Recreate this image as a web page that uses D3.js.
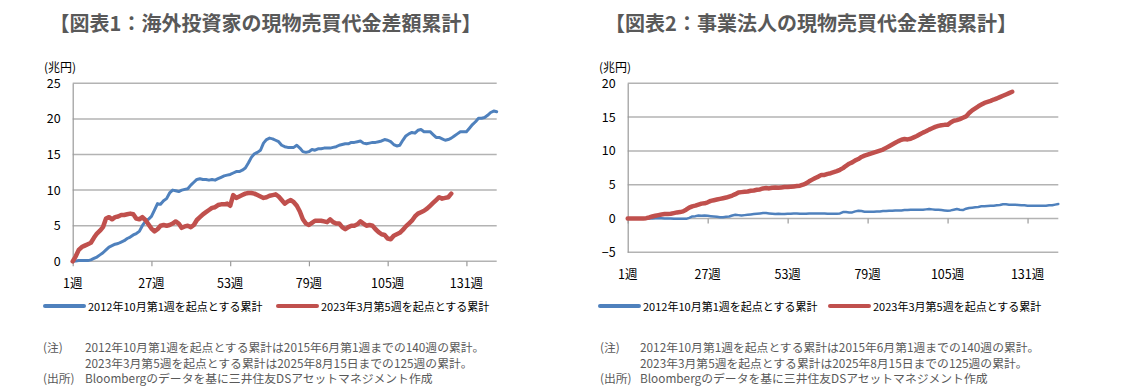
<!DOCTYPE html>
<html><head><meta charset="utf-8">
<script src="https://cdn.jsdelivr.net/npm/d3@7"></script>
<style>
html,body{margin:0;padding:0;background:#fff;}
svg{display:block;}
</style></head>
<body>
<svg id="c" width="1125" height="392"></svg>
<script>
// ---------- data ----------
const tickWeeks = [1, 27, 53, 79, 105, 131];
const tickLabels = ["1週", "27週", "53週", "79週", "105週", "131週"];
const seriesNames = ["2012年10月第1週を起点とする累計", "2023年3月第5週を起点とする累計"];

const titles = ["【図表1：海外投資家の現物売買代金差額累計】", "【図表2：事業法人の現物売買代金差額累計】"];
const unitLabel = "(兆円)";
const yTicks1 = [0, 5, 10, 15, 20, 25];
const yTicks2 = [-5, 0, 5, 10, 15, 20];

const noteHeads = ["(注)", "", "(出所)"];
const noteTexts = [
  "2012年10月第1週を起点とする累計は2015年6月第1週までの140週の累計。",
  "2023年3月第5週を起点とする累計は2025年8月15日までの125週の累計。",
  "Bloombergのデータを基に三井住友DSアセットマネジメント作成"
];

// 図表1 海外投資家
const foreign2012 = [
  0,0.05,0.1,0.1,0.1,0.1,0.2,0.4,0.6,0.9,
  1.2,1.6,2.0,2.2,2.4,2.5,2.7,2.9,3.2,3.4,
  3.7,3.9,4.2,5.0,5.6,5.9,6.3,7.2,8.1,8.0,
  8.5,8.8,9.6,10.0,9.9,9.8,10.0,10.1,10.2,10.7,
  11.1,11.5,11.6,11.5,11.5,11.4,11.5,11.4,11.6,11.8,
  12.0,12.1,12.2,12.4,12.6,12.6,12.8,13.1,13.8,14.6,
  15.1,15.3,15.6,16.6,17.1,17.3,17.2,17.0,16.8,16.3,
  16.1,16.0,16.0,16.0,16.3,15.9,15.4,15.3,15.4,15.7,
  15.6,15.8,15.8,15.9,15.9,15.9,16.0,16.1,16.3,16.4,
  16.5,16.5,16.7,16.7,16.8,16.9,16.6,16.5,16.6,16.7,
  16.7,16.8,16.9,17.1,17.0,16.8,16.4,16.2,16.3,17.0,
  17.6,17.9,18.1,18.0,18.4,18.5,18.2,18.2,18.2,17.8,
  17.4,17.4,17.2,17.0,17.1,17.3,17.6,17.9,18.2,18.2,
  18.2,18.7,19.2,19.6,20.1,20.1,20.2,20.5,20.9,21.1,
  21.0
];
const foreign2023 = [
  0,0.7,1.6,2.0,2.2,2.4,2.6,3.3,3.9,4.3,
  4.8,6.0,6.2,5.9,6.2,6.3,6.5,6.5,6.6,6.7,
  6.6,6.0,5.9,6.2,5.8,5.2,4.6,4.2,4.5,5.0,
  5.1,5.0,5.1,5.3,5.6,5.3,4.7,4.9,5.0,4.8,
  5.1,5.8,6.2,6.6,6.9,7.2,7.5,7.6,7.9,8.0,
  8.0,8.1,7.8,9.3,8.9,9.1,9.3,9.5,9.6,9.6,
  9.5,9.3,9.1,8.9,9.0,9.2,9.3,9.4,9.1,8.6,
  8.1,8.4,8.6,8.3,7.8,7.0,5.9,5.3,5.1,5.4,
  5.7,5.7,5.7,5.6,5.5,5.9,5.5,5.3,5.3,4.8,
  4.5,4.8,5.0,5.0,5.2,5.6,5.3,5.0,5.1,5.0,
  4.5,4.1,3.8,3.7,3.2,3.1,3.6,3.8,4.0,4.4,
  4.9,5.3,5.7,6.3,6.7,6.9,7.1,7.4,7.8,8.2,
  8.6,9.0,8.8,8.9,9.0,9.5
];

// 図表2 事業法人
const corp2012 = [
  0,0,0,0,0,0,0,0,0,0.05,
  0.05,0.05,0,0,0,-0.05,-0.05,-0.05,-0.05,-0.05,
  0.1,0.3,0.35,0.45,0.4,0.45,0.4,0.35,0.3,0.25,
  0.2,0.2,0.25,0.3,0.45,0.55,0.5,0.45,0.5,0.55,
  0.6,0.65,0.7,0.75,0.8,0.8,0.75,0.7,0.65,0.7,
  0.65,0.65,0.7,0.7,0.75,0.75,0.7,0.7,0.7,0.75,
  0.75,0.75,0.75,0.75,0.75,0.7,0.7,0.7,0.7,0.75,
  0.95,0.95,0.9,0.9,1.05,1.15,1.1,1.0,1.0,1.0,
  1.0,1.05,1.05,1.1,1.1,1.15,1.15,1.2,1.2,1.2,
  1.25,1.25,1.3,1.3,1.3,1.3,1.3,1.35,1.4,1.35,
  1.3,1.3,1.25,1.2,1.15,1.2,1.3,1.4,1.3,1.25,
  1.45,1.55,1.6,1.65,1.7,1.8,1.8,1.85,1.9,1.9,
  1.95,2.0,2.1,2.1,2.05,2.05,2.05,2.0,1.95,1.95,
  1.9,1.9,1.9,1.9,1.9,1.9,1.9,1.95,1.95,2.05,
  2.15
];
const corp2023 = [
  0,0,0,0,0,0,0.05,0.15,0.3,0.4,
  0.5,0.6,0.65,0.65,0.7,0.8,0.9,0.95,1.05,1.3,
  1.6,1.8,1.9,2.05,2.2,2.25,2.4,2.6,2.7,2.8,
  2.9,3.0,3.1,3.25,3.4,3.6,3.85,3.9,3.95,4.0,
  4.1,4.15,4.25,4.3,4.45,4.5,4.45,4.55,4.6,4.55,
  4.6,4.65,4.65,4.7,4.75,4.8,4.85,5.0,5.2,5.5,
  5.75,6.0,6.2,6.45,6.45,6.6,6.7,6.85,7.0,7.2,
  7.45,7.8,8.1,8.3,8.6,8.8,9.1,9.3,9.45,9.6,
  9.75,9.9,10.05,10.2,10.45,10.7,10.95,11.2,11.45,11.65,
  11.75,11.7,11.8,12.0,12.2,12.45,12.7,12.9,13.15,13.35,
  13.55,13.7,13.8,13.85,13.85,14.2,14.45,14.55,14.7,14.9,
  15.1,15.6,16.0,16.3,16.6,16.85,17.1,17.25,17.4,17.6,
  17.75,17.95,18.15,18.35,18.55,18.75
];

// ---------- drawing ----------
const svg = d3.select("#c");
const BLUE = "#4f81bd", RED = "#c0504d";
const FONT = "'Noto Sans CJK JP','Noto Sans',sans-serif";

function drawChart(o) {
  const g = svg.append("g");
  const x = d3.scaleLinear().domain([1, 141]).range([o.x0, o.x1]);
  const y = d3.scaleLinear().domain(o.yDomain).range([o.yBottom, o.yTop]);

  // title
  g.append("text").attr("x", o.titleX).attr("y", 22).attr("text-anchor", "middle")
    .attr("dominant-baseline", "central").attr("font-family", FONT).attr("font-weight", "bold")
    .attr("font-size", 20).attr("fill", "#595959").text(o.title);

  // unit
  g.append("text").attr("x", o.unitX).attr("y", 66).attr("dominant-baseline", "central")
    .attr("font-family", FONT).attr("font-size", 12).attr("fill", "#000").text(unitLabel);

  // gridlines
  g.append("g").selectAll("line").data(o.yTicks).join("line")
    .attr("x1", o.x0).attr("x2", o.x1).attr("y1", d => y(d)).attr("y2", d => y(d))
    .attr("stroke", "#b3b3b3").attr("stroke-width", 1.5);

  // y axis
  const ya = d3.axisLeft(y).tickValues(o.yTicks).tickSize(0).tickPadding(12);
  const yg = g.append("g").attr("transform", `translate(${o.x0},0)`).call(ya);
  yg.select(".domain").attr("stroke", "#9a9a9a").attr("stroke-width", 1.2);
  yg.selectAll("text").attr("font-family", FONT).attr("font-size", 12.5).attr("fill", "#000");

  // x axis (ticks at zero line, labels below plot)
  const xa = d3.axisBottom(x).tickValues(tickWeeks).tickSize(5).tickFormat("");
  const xg = g.append("g").attr("transform", `translate(0,${y(0)})`).call(xa);
  xg.select(".domain").remove();
  xg.selectAll("line").attr("stroke", "#9a9a9a").attr("stroke-width", 1.2);
  g.append("g").selectAll("text").data(tickWeeks).join("text")
    .attr("x", d => x(d)).attr("y", o.xLabelY).attr("text-anchor", "middle")
    .attr("dominant-baseline", "central").attr("font-family", FONT).attr("font-size", 12.5)
    .attr("fill", "#000").text((d, i) => tickLabels[i]);

  // lines
  const line = d3.line().x((d, i) => x(i + 1)).y(d => y(d));
  g.append("path").datum(o.s1).attr("d", line).attr("fill", "none").attr("stroke", BLUE)
    .attr("stroke-width", o.w1).attr("stroke-linejoin", "round").attr("stroke-linecap", "round");
  g.append("path").datum(o.s2).attr("d", line).attr("fill", "none").attr("stroke", RED)
    .attr("stroke-width", 4.5).attr("stroke-linejoin", "round").attr("stroke-linecap", "round");

  // legend
  const leg = [[BLUE, o.legX[0]], [RED, o.legX[1]]];
  leg.forEach(([c, lx], i) => {
    g.append("line").attr("x1", lx).attr("x2", lx + 39).attr("y1", 306).attr("y2", 306)
      .attr("stroke", c).attr("stroke-width", 4).attr("stroke-linecap", "round");
    g.append("text").attr("x", lx + 43).attr("y", 306).attr("dominant-baseline", "central")
      .attr("font-family", FONT).attr("font-size", 11).attr("fill", "#000").text(seriesNames[i]);
  });

  // notes
  const ny = [346.5, 362, 377.5];
  noteHeads.forEach((h, i) => {
    if (h) g.append("text").attr("x", o.noteX).attr("y", ny[i])
      .attr("dominant-baseline", "central").attr("font-family", FONT).attr("font-size", 11.8)
      .attr("fill", "#595959").text(h);
  });
  noteTexts.forEach((t, i) => {
    g.append("text").attr("x", o.noteTX).attr("y", ny[i])
      .attr("dominant-baseline", "central").attr("font-family", FONT).attr("font-size", 11.8)
      .attr("fill", "#595959").text(t);
  });
}

drawChart({
  title: titles[0], titleX: 265.5, unitX: 44,
  x0: 72.7, x1: 496.7, yTop: 83.3, yBottom: 261.3, yDomain: [0, 25], yTicks: yTicks1,
  xLabelY: 282, s1: foreign2012, s2: foreign2023, w1: 3,
  legX: [45, 278], noteX: 43, noteTX: 85
});
drawChart({
  title: titles[1], titleX: 811, unitX: 599,
  x0: 627.7, x1: 1058.3, yTop: 83.3, yBottom: 252.3, yDomain: [-5, 20], yTicks: yTicks2,
  xLabelY: 273, s1: corp2012, s2: corp2023, w1: 2.5,
  legX: [600, 830], noteX: 600, noteTX: 640
});
</script>
</body></html>
